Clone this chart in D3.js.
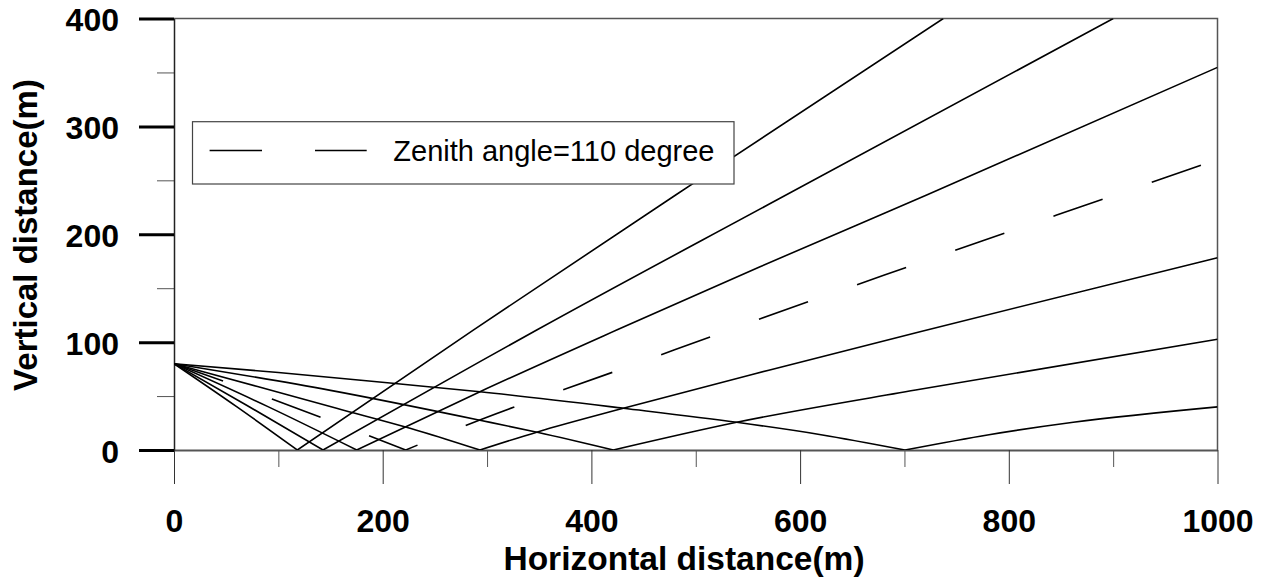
<!DOCTYPE html>
<html>
<head>
<meta charset="utf-8">
<script src="https://cdn.jsdelivr.net/npm/d3@7"></script>
<style>
  html, body { margin: 0; padding: 0; background: #fff; }
  svg { display: block; }
</style>
</head>
<body>
<svg id="chart" width="1266" height="577"></svg>
<script>
// ---- Data ----
const xTicks = [0, 200, 400, 600, 800, 1000];
const xMinorTicks = [100, 300, 500, 700, 900];
const yTicks = [0, 100, 200, 300, 400];
const yMinorTicks = [50, 150, 250, 350];

const xTitle = "Horizontal distance(m)";
const yTitle = "Vertical distance(m)";
const legendLabel = "Zenith angle=110 degree";

// ray paths: [horizontal distance, vertical distance]
const rayA = [[0,80],[60,40.2],[118.2,0],[286.8,111.2],[497.6,247.2],[737.2,400]];
const rayB = [[0,80],[70,41.3],[142.8,0],[293.2,81.9],[347.6,111.2],[577.6,231.7],[900.1,400]];
const rayC = [[0,80],[90,40.2],[175.1,0],[293.2,54.0],[424.2,111.2],[561.6,169.9],[721.3,236.4],[1000,354.7]];
const rayD = [[0,80],[47,64],[93.9,47.3],[139.9,30.6],[222,0],[294.9,28.5],[421,72.3],[563.2,122.1],[703.7,169.9],[845.9,217.8],[1000,269.2]]; // zenith 110 (dashed)
const rayE = [[0,80],[80,58.8],[155.8,38.7],[237.3,17.0],[293.2,0],[349.1,17.0],[430.6,38.7],[570,74],[714.9,109.7],[1000,178.3]];
const rayF = [[0,80],[150,55.3],[293.2,27.6],[349.1,16.2],[421,0],[539.2,25.7],[714.9,56.3],[1000,102.7]];
const rayG = [[0,80],[100,71.8],[212,61.6],[293.2,54.0],[430.6,38.7],[539.2,25.7],[620,14.2],[700.5,0],[781,14.2],[861.8,25.7],[1000,40]];

const rays = [
  {pts: rayA, dashed: false},
  {pts: rayB, dashed: false},
  {pts: rayC, dashed: false},
  {pts: rayD, dashed: true},
  {pts: rayE, dashed: false},
  {pts: rayF, dashed: false},
  {pts: rayG, dashed: false}
];

// ---- Layout ----
const FONT = "'Liberation Sans', Arial, Helvetica, sans-serif";
const svg = d3.select("#chart");
const x = d3.scaleLinear().domain([0, 1000]).range([174, 1217.5]);
const y = d3.scaleLinear().domain([0, 400]).range([450, 18.5]);

svg.append("defs").append("clipPath").attr("id", "plotclip")
  .append("rect")
  .attr("x", x(0)).attr("y", y(400))
  .attr("width", x(1000) - x(0)).attr("height", y(0) - y(400));

// top and right frame
svg.append("path")
  .attr("d", `M${x(0)},${y(400)}H${x(1000)}V${y(0)}`)
  .attr("fill", "none").attr("stroke", "#555").attr("stroke-width", 1.5);

// x axis minor ticks
const gxm = svg.append("g").attr("transform", `translate(0,${y(0)})`)
  .call(d3.axisBottom(x).tickValues(xMinorTicks).tickSize(17).tickFormat(""));
gxm.select(".domain").remove();
gxm.selectAll(".tick line").attr("stroke", "#555").attr("stroke-width", 1);

// x axis major
const gx = svg.append("g").attr("transform", `translate(0,${y(0)})`)
  .call(d3.axisBottom(x).tickValues(xTicks).tickSize(34).tickSizeOuter(0).tickPadding(25)
    .tickFormat(d3.format("d")))
  .attr("font-family", FONT).attr("font-size", 32).attr("font-weight", "bold");
gx.select(".domain").attr("stroke", "#555").attr("stroke-width", 2);
gx.selectAll(".tick line").attr("stroke", "#333").attr("stroke-width", 1);
gx.selectAll(".tick text").attr("fill", "#000");

// y axis minor ticks
const gym = svg.append("g").attr("transform", `translate(${x(0)},0)`)
  .call(d3.axisLeft(y).tickValues(yMinorTicks).tickSize(17).tickFormat(""));
gym.select(".domain").remove();
gym.selectAll(".tick line").attr("stroke", "#555").attr("stroke-width", 1);

// y axis major
const gy = svg.append("g").attr("transform", `translate(${x(0)},0)`)
  .call(d3.axisLeft(y).tickValues(yTicks).tickSize(35).tickSizeOuter(0).tickPadding(20)
    .tickFormat(d3.format("d")))
  .attr("font-family", FONT).attr("font-size", 32).attr("font-weight", "bold");
gy.select(".domain").attr("stroke", "#222").attr("stroke-width", 1.5);
gy.selectAll(".tick line").attr("stroke", "#000").attr("stroke-width", 3);
gy.selectAll(".tick text").attr("fill", "#000").attr("dy", "0.38em");

// rays: smooth descending and ascending legs joined at the ground point
const line = d3.line().x(d => x(d[0])).y(d => y(d[1])).curve(d3.curveMonotoneX);
function rayPath(pts) {
  let gi = 0;
  pts.forEach((p, i) => { if (p[1] < pts[gi][1]) gi = i; });
  const down = pts.slice(0, gi + 1);
  const up = pts.slice(gi);
  return line(down) + line(up).replace(/^M/, "L");
}
svg.append("g").attr("clip-path", "url(#plotclip)")
  .selectAll("path").data(rays).join("path")
  .attr("d", d => rayPath(d.pts))
  .attr("fill", "none")
  .attr("stroke", "#000")
  .attr("stroke-width", 1.6)
  .attr("stroke-linejoin", "miter")
  .attr("stroke-dasharray", d => d.dashed ? "52,52" : null);

// legend
const lg = svg.append("g");
lg.append("rect")
  .attr("x", 192.5).attr("y", 121.7).attr("width", 541.5).attr("height", 62.3)
  .attr("fill", "#fff").attr("stroke", "#444").attr("stroke-width", 1.2);
lg.append("line")
  .attr("x1", 209.6).attr("x2", 366.7).attr("y1", 150.5).attr("y2", 150.5)
  .attr("stroke", "#000").attr("stroke-width", 1.6).attr("stroke-dasharray", "52.4,53");
lg.append("text")
  .attr("x", 393.3).attr("y", 160.7)
  .attr("font-family", FONT).attr("font-size", 29).attr("fill", "#000")
  .text(legendLabel);

// axis titles
svg.append("text")
  .attr("x", 684).attr("y", 569.5).attr("text-anchor", "middle")
  .attr("font-family", FONT).attr("font-size", 33.5).attr("font-weight", "bold")
  .text(xTitle);
svg.append("text")
  .attr("transform", "translate(37,235) rotate(-90)")
  .attr("text-anchor", "middle")
  .attr("font-family", FONT).attr("font-size", 33).attr("font-weight", "bold")
  .text(yTitle);
</script>
</body>
</html>
